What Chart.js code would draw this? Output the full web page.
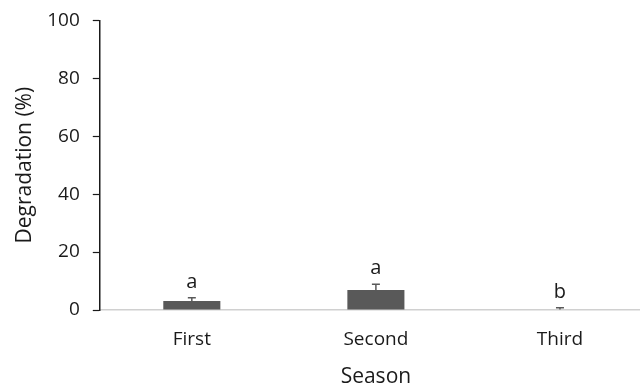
<!DOCTYPE html>
<html>
<head>
<meta charset="utf-8">
<script src="https://cdn.jsdelivr.net/npm/chart.js@4"></script>
<style>
  html, body { margin: 0; padding: 0; background: #fff; overflow: hidden; }
  #wrap { width: 652px; height: 394px; margin-top: -4px; }
</style>
</head>
<body>
<div id="wrap"><canvas id="c"></canvas></div>
<script>
// Degradation per season (mean, standard error) and significance letters
const seasons = ['First', 'Second', 'Third'];
const degradation = [3.1, 6.9, 0.2];
const stdError = [1.1, 2.0, 0.6];
const groupLetters = ['a', 'a', 'b'];
const yTicks = [0, 20, 40, 60, 80, 100];

const FONT = '"Open Sans", Lato, sans-serif';
const BAR = '#595959';

// Draws error whiskers and the group letters above each bar
const annotations = {
  id: 'annotations',
  afterDatasetsDraw(chart) {
    const { ctx, scales: { x, y } } = chart;
    ctx.save();
    degradation.forEach((v, i) => {
      const cx = x.getPixelForValue(i);
      const yBase = y.getPixelForValue(v);
      const yTop = y.getPixelForValue(v + stdError[i]);
      ctx.strokeStyle = BAR;
      ctx.lineWidth = 1.5;
      ctx.beginPath();
      ctx.moveTo(cx, yBase);
      ctx.lineTo(cx, yTop);
      ctx.moveTo(cx - 4, yTop);
      ctx.lineTo(cx + 4, yTop);
      ctx.stroke();
      ctx.fillStyle = '#1a1a1a';
      ctx.font = '20px ' + FONT;
      ctx.textAlign = 'center';
      ctx.textBaseline = 'alphabetic';
      ctx.fillText(groupLetters[i], cx, yTop - 10);
    });
    ctx.restore();
  }
};

new Chart(document.getElementById('c'), {
  type: 'bar',
  data: {
    labels: seasons,
    datasets: [{
      data: degradation,
      backgroundColor: BAR,
      borderWidth: 0,
      barPercentage: 0.31,
      categoryPercentage: 1.0
    }]
  },
  options: {
    responsive: true,
    maintainAspectRatio: false,
    animation: false,
    layout: { padding: { top: 10, left: 12, right: 0, bottom: 0 } },
    plugins: { legend: { display: false }, tooltip: { enabled: false } },
    scales: {
      x: {
        grid: { display: false, drawTicks: false },
        border: { color: '#d0d0d0', width: 1.5 },
        ticks: { color: '#1a1a1a', font: { family: FONT, size: 19 }, padding: 18 },
        title: { display: true, text: 'Season', color: '#1a1a1a', font: { family: FONT, size: 21 }, padding: { top: -4, bottom: 0 } }
      },
      y: {
        min: 0,
        max: 100,
        afterBuildTicks(axis) { axis.ticks = yTicks.map(v => ({ value: v })); },
        grid: { display: true, drawOnChartArea: false, drawTicks: true, tickLength: 7, color: '#1a1a1a', tickWidth: 1.2 },
        border: { color: '#1a1a1a', width: 1.5 },
        ticks: { color: '#1a1a1a', font: { family: FONT, size: 19 }, padding: 13 },
        title: { display: true, text: 'Degradation (%)', color: '#1a1a1a', font: { family: FONT, size: 21 }, padding: { top: 0, bottom: -3 } }
      }
    }
  },
  plugins: [annotations]
});
</script>
</body>
</html>
